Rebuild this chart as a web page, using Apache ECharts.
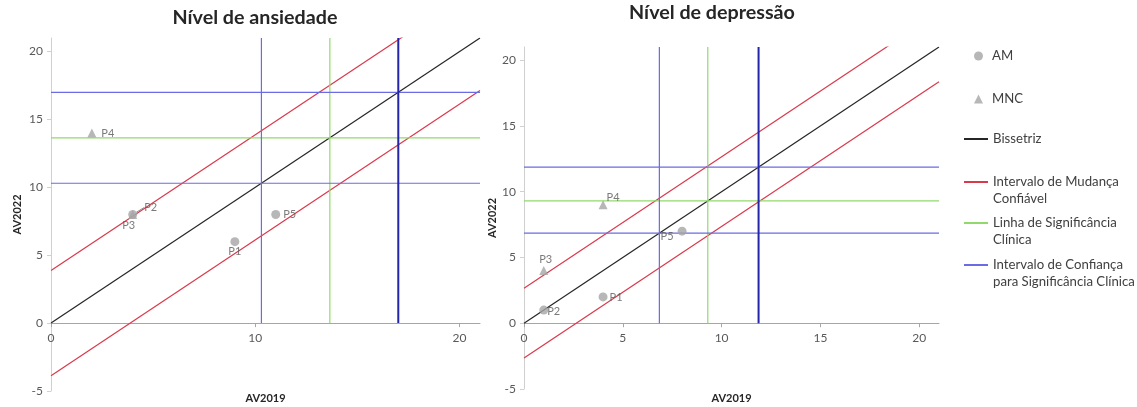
<!DOCTYPE html>
<html>
<head>
<meta charset="utf-8">
<script src="https://cdn.jsdelivr.net/npm/echarts@6/dist/echarts.min.js"></script>
<style>
  html, body { margin: 0; padding: 0; background: #fff; }
  #chart { width: 1137px; height: 407px; }
</style>
</head>
<body>
<div id="chart"></div>
<script>
// Participants: AM (circles) and MNC (triangles), AV2019 vs AV2022
const ansAM = [[9, 6], [4, 8], [11, 8]];
const ansAMNames = ['P1', 'P2', 'P5'];
const ansMNC = [[2, 14], [4, 8]];
const ansMNCNames = ['P4', 'P3'];

const depAM = [[4, 2], [1, 1], [8, 7]];
const depAMNames = ['P1', 'P2', 'P5'];
const depMNC = [[4, 9], [1, 4]];
const depMNCNames = ['P4', 'P3'];

// Reliable change half-width, clinical cut-off and its confidence interval
const ansRCI = 3.87;
const ansCutoff = 13.65;
const ansCI = [10.3, 17.0];
const depRCI = 2.65;
const depCutoff = 9.3;
const depCI = [6.85, 11.87];

const titles = ['Nível de ansiedade', 'Nível de depressão'];
const axisMin = -5;
const axisMax = 21;
const xTicks = [[0, 10, 20], [0, 5, 10, 15, 20]];
const yTicks = [-5, 0, 5, 10, 15, 20];

const names = {
  am: 'AM',
  mnc: 'MNC',
  bis: 'Bissetriz',
  rci: 'Intervalo de Mudança Confiável',
  cut: 'Linha de Significância Clínica',
  ci: 'Intervalo de Confiança para Significância Clínica'
};

const FONT = 'Lato, "Liberation Sans", sans-serif';
const C = {
  point: '#a5a5a5',
  bis: '#262626',
  red: '#d9394b',
  green: '#92d96c',
  blue: '#6b6be3',
  navy: '#2424a8',
  text: '#595959'
};

const grids = [
  { left: 51, top: 38, width: 429, height: 353 },
  { left: 524, top: 47, width: 415, height: 342 }
];

function lineSeries(name, idx, data, color, width) {
  return {
    type: 'line', name, xAxisIndex: idx, yAxisIndex: idx,
    data, symbol: 'none', clip: true, silent: true,
    lineStyle: { color, width: width || 1.2 },
    itemStyle: { color },
    z: 2
  };
}

function pointSeries(name, idx, pts, labels, symbol, size, labelCfg, layoutFn) {
  const s = {
    type: 'scatter', name, xAxisIndex: idx, yAxisIndex: idx,
    symbol, symbolSize: size,
    itemStyle: { color: C.point },
    data: pts.map((p, i) => {
      const item = { value: p, name: labels[i] };
      const cfg = labelCfg[labels[i]];
      if (cfg) {
        if (cfg.leader) {
          item.labelLine = { show: true, length2: 0, lineStyle: { color: '#8c8c8c', width: 1 } };
        }
        item.label = Object.assign({}, cfg);
        delete item.label.leader;
      }
      return item;
    }),
    label: {
      show: true, formatter: '{b}', color: C.text,
      fontFamily: FONT, fontSize: 11
    },
    labelLine: { show: false },
    z: 5
  };
  if (layoutFn) s.labelLayout = layoutFn;
  return s;
}

function guideSeries(idx, rci, cutoff, ci) {
  return [
    lineSeries(names.bis, idx, [[0, 0], [axisMax, axisMax]], C.bis, 1.2),
    lineSeries(names.rci, idx, [[0, rci], [axisMax, axisMax + rci]], C.red),
    lineSeries(names.rci, idx, [[0, -rci], [axisMax, axisMax - rci]], C.red),
    lineSeries(names.cut, idx, [[cutoff, 0], [cutoff, axisMax]], C.green),
    lineSeries(names.cut, idx, [[0, cutoff], [axisMax, cutoff]], C.green),
    lineSeries(names.ci, idx, [[ci[0], 0], [ci[0], axisMax]], C.blue),
    lineSeries(names.ci, idx, [[0, ci[0]], [axisMax, ci[0]]], C.blue),
    lineSeries(names.ci, idx, [[0, ci[1]], [axisMax, ci[1]]], C.blue),
    lineSeries(names.ci, idx, [[ci[1], 0], [ci[1], axisMax]], C.navy, 2)
  ];
}

const series = [].concat(
  guideSeries(0, ansRCI, ansCutoff, ansCI),
  guideSeries(1, depRCI, depCutoff, depCI),
  [
    pointSeries(names.am, 0, ansAM, ansAMNames, 'circle', 9, {
      P1: { position: 'bottom', distance: 0, offset: [4, -3] },
      P2: { position: 'right', distance: 3, leader: true },
      P5: { position: 'right', distance: 3, offset: [0, -4] }
    }, function (p) {
      if (p.dataIndex === 1) return { dx: 4, dy: -7 };
      return {};
    }),
    pointSeries(names.mnc, 0, ansMNC, ansMNCNames, 'triangle', 9, {
      P4: { position: 'right', distance: 5 },
      P3: { position: 'bottom', distance: 1, offset: [-4, 0] }
    }),
    pointSeries(names.am, 1, depAM, depAMNames, 'circle', 9, {
      P1: { position: 'right', distance: 2, offset: [0, 1] },
      P2: { position: 'right', distance: 0, offset: [-1, 1] },
      P5: { position: 'left', distance: 4, offset: [0, 5] }
    }),
    pointSeries(names.mnc, 1, depMNC, depMNCNames, 'triangle', 9, {
      P4: { position: 'right', distance: 0, offset: [-1, -7] },
      P3: { position: 'top', distance: 1, offset: [2, 0] }
    })
  ]
);

// x axis sits on y = 0: shift it up from the grid bottom by the share of the range below zero
function xAxis(idx) {
  const zeroShift = grids[idx].height * (0 - axisMin) / (axisMax - axisMin);
  return {
    type: 'value', gridIndex: idx, min: 0, max: axisMax,
    position: 'bottom', offset: -zeroShift,
    name: 'AV2019', nameLocation: 'middle', nameGap: 70,
    nameTextStyle: { fontFamily: FONT, fontWeight: 'bold', fontSize: 11, color: '#262626' },
    axisLine: { onZero: false, lineStyle: { color: '#a6a6a6', width: 1 } },
    axisTick: { show: true, length: 4, customValues: xTicks[idx], lineStyle: { color: '#a6a6a6' } },
    axisLabel: { customValues: xTicks[idx], color: C.text, fontFamily: FONT, fontSize: 12, margin: 9 },
    splitLine: { show: false }
  };
}

function yAxis(idx) {
  return {
    type: 'value', gridIndex: idx, min: axisMin, max: axisMax,
    name: 'AV2022', nameLocation: 'middle', nameGap: idx === 0 ? 28 : 24, nameRotate: 90,
    nameTextStyle: { fontFamily: FONT, fontWeight: 'bold', fontSize: 11, color: '#262626' },
    axisLine: { show: true, onZero: false, lineStyle: { color: '#d0d0d0', width: 1 } },
    axisTick: { show: true, length: 4, customValues: yTicks, lineStyle: { color: '#d0d0d0' } },
    axisLabel: { customValues: yTicks, color: C.text, fontFamily: FONT, fontSize: 12, margin: 8 },
    splitLine: { show: false }
  };
}

// One legend block per entry so each sits at its own height.
// Two-line entries start with an empty line so the icon lines up with the first text line.
const LH = 16.5;
const legendRows = [
  { name: names.am, mid: 56, label: 'AM', sym: true },
  { name: names.mnc, mid: 99, label: 'MNC', sym: true },
  { name: names.bis, mid: 139, label: 'Bissetriz' },
  { name: names.rci, mid: 182, label: '\nIntervalo de Mudança\nConfiável' },
  { name: names.cut, mid: 223, label: '\nLinha de Significância\nClínica' },
  { name: names.ci, mid: 265, label: '\nIntervalo de Confiança\npara Significância Clínica' }
];

const legend = legendRows.map(r => {
  const lines = r.label.split('\n').length;
  return {
    data: [r.name],
    orient: 'vertical',
    left: r.sym ? 974 : 963,
    top: r.mid - lines * LH / 2,
    padding: 0,
    itemWidth: r.sym ? 9 : 24,
    itemHeight: r.sym ? 9 : 2,
    itemGap: 0,
    formatter: () => r.label,
    textStyle: {
      fontFamily: FONT, fontSize: 13.2, color: '#404040',
      lineHeight: LH, padding: r.sym ? [0, 0, 0, 4] : 0
    }
  };
});

const chart = echarts.init(document.getElementById('chart'), null, { renderer: 'canvas' });
chart.setOption({
  backgroundColor: '#fff',
  animation: false,
  title: [
    { text: titles[0], left: 255, top: 8, textAlign: 'center', padding: 0,
      textStyle: { fontFamily: FONT, fontWeight: 'bold', fontSize: 19.7, color: '#262626' } },
    { text: titles[1], left: 712, top: 3, textAlign: 'center', padding: 0,
      textStyle: { fontFamily: FONT, fontWeight: 'bold', fontSize: 19.7, color: '#262626' } }
  ],
  legend,
  grid: grids.map(g => Object.assign({ outerBoundsMode: 'none', containLabel: false }, g)),
  xAxis: [xAxis(0), xAxis(1)],
  yAxis: [yAxis(0), yAxis(1)],
  series
});
</script>
</body>
</html>
